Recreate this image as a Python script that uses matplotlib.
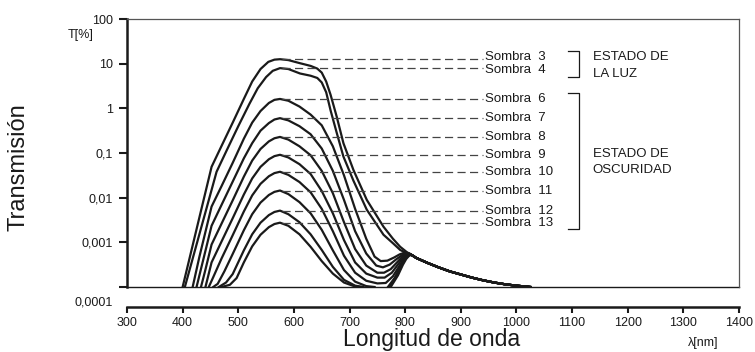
import matplotlib
matplotlib.use("Agg")
import matplotlib.pyplot as plt
import numpy as np
from matplotlib.ticker import NullLocator

plt.rcParams['font.family'] = ['Liberation Sans', 'DejaVu Sans']

# Transmission curves of the shades: wavelength [nm] and log10(T[%])
nm_s3 = [400, 452, 470, 490, 510, 525, 540, 554, 565, 575, 590, 611, 630, 642, 650, 658, 666, 677, 689, 707, 731, 761, 778, 791, 802, 812]
log_s3 = [-4.0, -1.31, -0.84, -0.32, 0.21, 0.60, 0.88, 1.04, 1.09, 1.10, 1.08, 1.01, 0.95, 0.89, 0.80, 0.60, 0.30, -0.19, -0.78, -1.38, -2.05, -2.65, -2.92, -3.10, -3.21, -3.29]

nm_s4 = [404, 461, 480, 500, 520, 535, 550, 562, 575, 590, 611, 630, 642, 650, 658, 666, 677, 689, 707, 731, 761, 778, 791, 802, 812]
log_s4 = [-4.0, -1.42, -0.92, -0.40, 0.10, 0.45, 0.70, 0.84, 0.90, 0.88, 0.78, 0.73, 0.68, 0.58, 0.36, -0.05, -0.55, -1.08, -1.62, -2.27, -2.83, -3.02, -3.17, -3.24, -3.29]

nm_s6 = [418, 430, 452, 470, 490, 510, 525, 540, 555, 565, 575, 590, 610, 630, 650, 670, 690, 710, 730, 745, 756, 768, 780, 790, 798, 806, 814]
log_s6 = [-4.0, -3.33, -2.20, -1.74, -1.22, -0.68, -0.32, -0.06, 0.12, 0.19, 0.21, 0.17, 0.04, -0.14, -0.38, -0.85, -1.50, -2.25, -2.92, -3.32, -3.42, -3.41, -3.34, -3.27, -3.235, -3.245, -3.30]

nm_s7 = [425, 440, 452, 470, 490, 510, 525, 540, 555, 565, 575, 590, 610, 630, 650, 670, 690, 710, 730, 748, 760, 772, 784, 794, 801, 807, 814]
log_s7 = [-4.0, -3.24, -2.63, -2.16, -1.64, -1.12, -0.78, -0.50, -0.33, -0.25, -0.22, -0.27, -0.40, -0.58, -0.90, -1.40, -2.05, -2.75, -3.25, -3.52, -3.56, -3.50, -3.38, -3.29, -3.25, -3.25, -3.30]

nm_s8 = [433, 440, 452, 470, 490, 510, 525, 540, 555, 565, 575, 590, 610, 630, 650, 670, 690, 710, 730, 750, 762, 774, 786, 795, 802, 808, 814]
log_s8 = [-4.0, -3.66, -3.05, -2.58, -2.06, -1.53, -1.17, -0.91, -0.74, -0.67, -0.64, -0.70, -0.85, -1.05, -1.40, -1.90, -2.55, -3.15, -3.52, -3.68, -3.68, -3.60, -3.44, -3.32, -3.26, -3.255, -3.30]

nm_s9 = [441, 452, 470, 490, 510, 525, 540, 555, 565, 575, 590, 610, 630, 650, 670, 690, 710, 730, 750, 763, 776, 788, 797, 803, 809, 814]
log_s9 = [-4.0, -3.45, -2.98, -2.46, -1.93, -1.57, -1.31, -1.14, -1.07, -1.04, -1.10, -1.25, -1.47, -1.85, -2.35, -2.95, -3.45, -3.70, -3.79, -3.79, -3.68, -3.48, -3.34, -3.27, -3.26, -3.30]

nm_s10 = [447, 455, 470, 490, 510, 525, 540, 555, 565, 575, 590, 610, 630, 650, 670, 690, 710, 730, 750, 765, 778, 790, 798, 804, 809, 814]
log_s10 = [-4.0, -3.78, -3.36, -2.84, -2.31, -1.95, -1.69, -1.52, -1.45, -1.42, -1.49, -1.65, -1.88, -2.25, -2.75, -3.30, -3.68, -3.86, -3.92, -3.91, -3.76, -3.52, -3.36, -3.28, -3.265, -3.30]

nm_s11 = [455, 463, 475, 490, 510, 525, 540, 555, 565, 575, 590, 610, 630, 650, 670, 690, 710, 730, 745, 757, 769, 781, 792, 800, 805, 810, 814]
log_s11 = [-4.0, -3.93, -3.65, -3.26, -2.73, -2.37, -2.11, -1.94, -1.87, -1.84, -1.92, -2.10, -2.35, -2.72, -3.18, -3.62, -3.88, -3.98, -4.0, np.nan, -4.0, -3.80, -3.52, -3.36, -3.29, -3.27, -3.30]

nm_s12 = [465, 478, 490, 510, 525, 540, 555, 565, 575, 590, 610, 630, 650, 670, 690, 710, 725, 750, 771, 784, 794, 801, 806, 810, 814]
log_s12 = [-4.0, -3.90, -3.71, -3.18, -2.82, -2.56, -2.39, -2.32, -2.29, -2.37, -2.55, -2.82, -3.17, -3.55, -3.84, -3.97, -4.0, np.nan, -4.0, -3.76, -3.50, -3.36, -3.30, -3.275, -3.30]

nm_s13 = [470, 485, 497, 510, 525, 540, 555, 565, 575, 590, 610, 630, 650, 670, 690, 710, 720, 750, 774, 787, 796, 802, 807, 811, 814]
log_s13 = [-4.0, -3.95, -3.80, -3.45, -3.09, -2.83, -2.66, -2.59, -2.56, -2.63, -2.82, -3.10, -3.42, -3.70, -3.90, -3.99, -4.0, np.nan, -4.0, -3.74, -3.50, -3.37, -3.30, -3.28, -3.30]

# common infrared tail, all shades coincide here
nm_tail = [820, 840, 860, 880, 900, 920, 940, 960, 980, 1000, 1025]
log_tail = [-3.35, -3.46, -3.56, -3.65, -3.72, -3.79, -3.85, -3.90, -3.94, -3.97, -4.0]

shade_names = ['Sombra  3', 'Sombra  4', 'Sombra  6', 'Sombra  7', 'Sombra  8',
               'Sombra  9', 'Sombra  10', 'Sombra  11', 'Sombra  12', 'Sombra  13']
curves = [(nm_s3, log_s3), (nm_s4, log_s4), (nm_s6, log_s6), (nm_s7, log_s7),
          (nm_s8, log_s8), (nm_s9, log_s9), (nm_s10, log_s10), (nm_s11, log_s11),
          (nm_s12, log_s12), (nm_s13, log_s13)]

ytick_vals = [1e-4, 1e-3, 1e-2, 1e-1, 1, 10, 100]
ytick_text = ['', '0,001', '0,01', '0,1', '1', '10', '100']
xtick_vals = list(range(300, 1401, 100))

fig = plt.figure(figsize=(7.55, 3.52), dpi=100)
ax = fig.add_axes([127 / 755, 1 - 287 / 352, 612 / 755, 268 / 352])
ax.set_yscale('log')
ax.set_xlim(300, 1400)
ax.set_ylim(1e-4, 100)

ink = '#1a1a1a'
for (nm, lg), name in zip(curves, shade_names):
    x = np.concatenate([nm, nm_tail])
    y = 10 ** np.concatenate([lg, log_tail])
    ax.plot(x, y, color=ink, lw=1.6, solid_joinstyle='round')

    # dashed leader from the peak out to the label
    i = int(np.nanargmax(lg))
    peak = 10 ** lg[i]
    ax.plot([nm[i] + 3, 940], [peak, peak], color='#444444', lw=0.9,
            linestyle=(0, (6.5, 3.5)))
    nudge = {'Sombra  3': 1.5, 'Sombra  4': -1.5}.get(name, 0)
    ax.annotate(name, xy=(943, peak), xytext=(0, nudge), textcoords='offset points',
                ha='left', va='center', fontsize=9.5, color=ink)

# brackets for the two states
ax.plot([1092, 1112, 1112, 1092], [19.2, 19.2, 5.0, 5.0], color=ink, lw=0.9)
ax.plot([1092, 1112, 1112, 1092], [2.2, 2.2, 0.002, 0.002], color=ink, lw=0.9)
ax.text(1137, 10 ** 1.15, 'ESTADO DE', fontsize=9.5, va='center', color=ink)
ax.text(1137, 10 ** 0.77, 'LA LUZ', fontsize=9.5, va='center', color=ink)
ax.text(1137, 10 ** -1.02, 'ESTADO DE', fontsize=9.5, va='center', color=ink)
ax.text(1137, 10 ** -1.38, 'OSCURIDAD', fontsize=9.5, va='center', color=ink)

# axes styling
ax.set_yticks(ytick_vals)
ax.set_yticklabels(ytick_text)
ax.yaxis.set_minor_locator(NullLocator())
ax.set_xticks(xtick_vals)
ax.set_xticklabels([str(v) for v in xtick_vals])
ax.tick_params(axis='y', length=6, width=1.5, pad=4, labelsize=9, colors=ink)
ax.tick_params(axis='x', length=4, width=1.5, pad=3, labelsize=9, colors=ink)

ax.spines['left'].set_linewidth(1.8)
ax.spines['left'].set_color(ink)
ax.spines['bottom'].set_position(('outward', 14.4))
ax.spines['bottom'].set_linewidth(1.8)
ax.spines['bottom'].set_color(ink)
for side in ('top', 'right'):
    ax.spines[side].set_linewidth(0.9)
    ax.spines[side].set_color('#555555')
ax.axhline(1e-4, color=ink, lw=1.0, clip_on=False)

ax.annotate('0,0001', xy=(0, 1e-4), xycoords=('axes fraction', 'data'),
            xytext=(-10, -11.5), textcoords='offset points',
            ha='right', va='center', fontsize=9, color=ink)

fig.text(80.5 / 755, 1 - 35 / 352, 'T[%]', ha='center', va='center', fontsize=9, color=ink)
fig.text(703 / 755, 1 - 343 / 352, 'λ[nm]', ha='center', va='center', fontsize=9, color=ink)
fig.text(19 / 755, 1 - 167 / 352, 'Transmisión', rotation=90, ha='center', va='center',
         fontsize=17, color=ink)
fig.text(432 / 755, 1 - 346 / 352, 'Longitud de onda', ha='center', va='baseline',
         fontsize=16.5, color=ink)

fig.savefig('out.png', dpi=100)
